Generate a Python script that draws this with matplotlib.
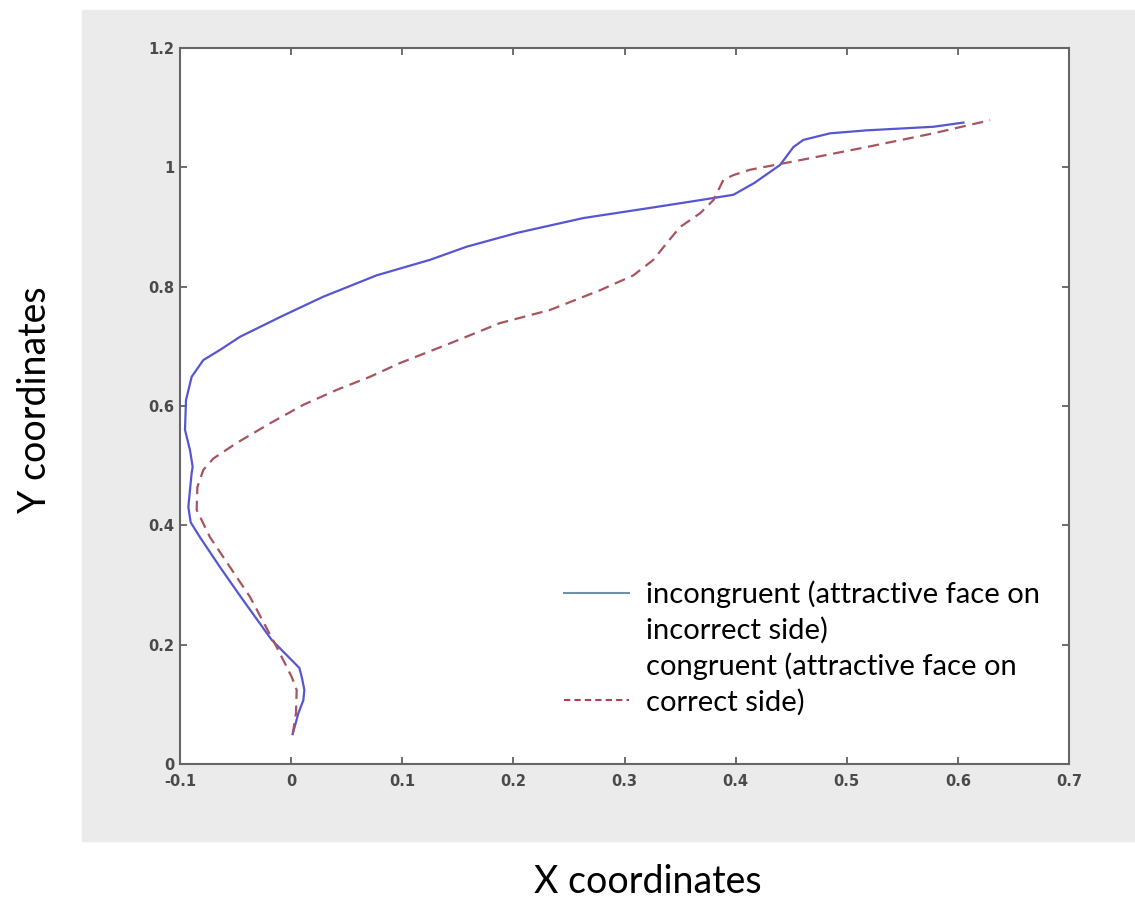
import matplotlib.pyplot as plt
from matplotlib.patches import Rectangle
from matplotlib.lines import Line2D

# incongruent trajectory (attractive face on incorrect side)
incon_x = [0.0014, 0.0065, 0.011, 0.0119, 0.0098, 0.0074, -0.0175, -0.0445, -0.064,
           -0.082, -0.0904, -0.0925, -0.0895, -0.0886, -0.091, -0.0955, -0.0946, -0.0895,
           -0.079, -0.064, -0.046, -0.010, 0.0287, 0.077, 0.125, 0.158, 0.203, 0.263,
           0.323, 0.368, 0.398, 0.417, 0.440, 0.452, 0.461, 0.485, 0.518, 0.578, 0.605]
incon_y = [0.050, 0.085, 0.107, 0.124, 0.144, 0.161, 0.208, 0.278, 0.330,
           0.380, 0.405, 0.431, 0.488, 0.498, 0.526, 0.560, 0.610, 0.649,
           0.677, 0.694, 0.716, 0.749, 0.783, 0.819, 0.845, 0.867, 0.890, 0.915,
           0.932, 0.945, 0.954, 0.974, 1.004, 1.034, 1.046, 1.057, 1.062, 1.068, 1.075]

# congruent trajectory (attractive face on correct side)
con_x = [0.0014, 0.0044, 0.005, 0.0005, -0.013, -0.037, -0.055, -0.073, -0.085,
         -0.0844, -0.079, -0.070, -0.049, -0.019, 0.011, 0.041, 0.071, 0.098, 0.143,
         0.188, 0.233, 0.278, 0.308, 0.326, 0.338, 0.350, 0.368, 0.380, 0.389, 0.398,
         0.413, 0.458, 0.518, 0.578, 0.629]
con_y = [0.050, 0.085, 0.124, 0.146, 0.196, 0.280, 0.330, 0.380, 0.426,
         0.464, 0.493, 0.512, 0.538, 0.571, 0.602, 0.627, 0.649, 0.672, 0.705,
         0.739, 0.761, 0.794, 0.819, 0.845, 0.873, 0.900, 0.923, 0.945, 0.979, 0.987,
         0.996, 1.012, 1.034, 1.057, 1.079]

legend_labels = ['incongruent (attractive face on', 'incorrect side)',
                 'congruent (attractive face on', 'correct side)']

fig = plt.figure(figsize=(11.35, 8.99), dpi=100)
fig.patches.append(Rectangle((82 / 1135, 58 / 899), 1053 / 1135, 831 / 899,
                             transform=fig.transFigure, color='#ebebeb', zorder=-10))

ax = fig.add_axes([180 / 1135, 135 / 899, 889 / 1135, 716 / 899])
ax.set_zorder(1)
ax.plot(incon_x, incon_y, color='#5656d2', lw=1.6)
ax.plot(con_x, con_y, color='#a8545e', lw=1.6, dashes=(5, 3))

ax.set_xlim(-0.1, 0.7)
ax.set_ylim(0, 1.2)
ax.set_xticks([-0.1, 0, 0.1, 0.2, 0.3, 0.4, 0.5, 0.6, 0.7])
ax.set_xticklabels(['-0.1', '0', '0.1', '0.2', '0.3', '0.4', '0.5', '0.6', '0.7'])
ax.set_yticks([0, 0.2, 0.4, 0.6, 0.8, 1.0, 1.2])
ax.set_yticklabels(['0', '0.2', '0.4', '0.6', '0.8', '1', '1.2'])
ax.tick_params(direction='in', top=True, right=True, length=5, width=1.2,
               color='#555555', labelcolor='#4a4a4a', labelsize=10.5)
ax.tick_params(axis='x', pad=7)
ax.tick_params(axis='y', pad=4)
for lab in ax.get_xticklabels() + ax.get_yticklabels():
    lab.set_fontweight('bold')
for s in ax.spines.values():
    s.set_color('#666666')
    s.set_linewidth(1.5)

blank = Line2D([], [], color='none')
handles = [Line2D([], [], color='#7090a8', lw=1.5), blank, blank,
           Line2D([], [], color='#b04050', lw=1.5, dashes=(3, 2))]
leg = ax.legend(handles, legend_labels, loc='upper left', frameon=False,
                bbox_to_anchor=(0.416, 0.277), prop={'family': 'Lato', 'size': 21},
                handlelength=2.2, handletextpad=0.6, labelspacing=0.3, borderpad=0)

fig.text(35 / 1135, 1 - 400 / 899, 'Y coordinates', rotation=90, ha='center',
         va='center', family='Lato', fontsize=27)
fig.text(648 / 1135, 1 - 882 / 899, 'X coordinates', ha='center', va='center',
         family='Lato', fontsize=27)

plt.savefig('out.png', dpi=100)
